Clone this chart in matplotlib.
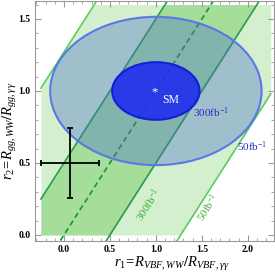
import numpy as np
import matplotlib
matplotlib.use("Agg")
import matplotlib.pyplot as plt
from matplotlib.patches import Ellipse
from matplotlib.ticker import MultipleLocator

plt.rcParams["font.family"] = "Liberation Serif"
plt.rcParams["mathtext.fontset"] = "custom"
plt.rcParams["mathtext.rm"] = "Liberation Serif"
plt.rcParams["mathtext.it"] = "Liberation Serif:italic"
plt.rcParams["mathtext.bf"] = "Liberation Serif:bold"
plt.rcParams["mathtext.bfit"] = "Liberation Serif:bold:italic"

# region plotted and band half widths (in r2 at fixed r1)
r1_range = [-0.25, 2.25]
r2_range = [0.0, 1.6]
band_50 = 1.27
band_300 = 0.5

# ellipses: center, half axes
sm_point = [1.0, 1.0]
ell_50 = [1.15, 0.515]
ell_300 = [0.475, 0.2]

# measured point
meas_r1 = 0.07
meas_r2 = 0.5
meas_r1_err = 0.315
meas_r2_err = 0.245

fig = plt.figure(figsize=(2.75, 2.73), dpi=100)
ax = fig.add_axes([35/275, 1 - 241/273, 239/275, 240/273])
ax.set_xlim(-0.315, 2.285)
ax.set_ylim(-0.042, 1.625)

x = np.linspace(r1_range[0], r1_range[1], 600)

def band(w, color):
    lo = np.clip(x - w, *r2_range)
    hi = np.clip(x + w, *r2_range)
    ax.fill_between(x, lo, hi, where=hi > lo, color=color, lw=0, zorder=1)

band(band_50, "#d4efce")
band(band_300, "#a5dd9b")

for s in (-1, 1):
    ax.plot(x, x + s*band_50, color="#5dcc5d", lw=1.2, zorder=2)
    ax.plot(x, x + s*band_300, color="#2c9c48", lw=1.2, zorder=2)
ax.plot(x, x, color="#1e9a38", lw=1.3, ls=(0, (3, 2)), zorder=2)

big = Ellipse(sm_point, 2*ell_50[0], 2*ell_50[1], facecolor=(0.27, 0.42, 0.8, 0.36),
              edgecolor="#5a78e6", lw=1.5, zorder=3)
small = Ellipse(sm_point, 2*ell_300[0], 2*ell_300[1], facecolor=(0.12, 0.18, 0.93, 0.9),
                edgecolor="#1020d8", lw=1.5, zorder=4)
ax.add_patch(big)
ax.add_patch(small)

ax.errorbar([meas_r1], [meas_r2], xerr=[meas_r1_err], yerr=[meas_r2_err], fmt="none",
            ecolor="black", elinewidth=1.3, capsize=2, capthick=1.3, zorder=5)

ax.text(0.985, 0.99, "*", color="white", fontsize=9, ha="center", va="center", zorder=6)
ax.text(1.07, 0.94, "SM", color="white", fontsize=8.5, ha="left", va="center", zorder=6)
ax.text(1.40, 0.85, r"300fb$^{-1}$", color="#2828c8", fontsize=8, ha="left", va="center", zorder=6)
ax.text(1.88, 0.61, r"50fb$^{-1}$", color="#2828c8", fontsize=8, ha="left", va="center", zorder=6)

fig.canvas.draw()
p0 = ax.transData.transform((0, 0))
p1 = ax.transData.transform((1, 1))
ang = np.degrees(np.arctan2(p1[1] - p0[1], p1[0] - p0[0]))
ax.text(0.92, 0.21, r"300fb$^{-1}$", color="#35b035", fontsize=8, rotation=ang,
        ha="center", va="center", rotation_mode="anchor", zorder=6)
ax.text(1.57, 0.19, r"50fb$^{-1}$", color="#35b035", fontsize=8, rotation=ang,
        ha="center", va="center", rotation_mode="anchor", zorder=6)

ax.xaxis.set_major_locator(MultipleLocator(0.5))
ax.xaxis.set_minor_locator(MultipleLocator(0.1))
ax.yaxis.set_major_locator(MultipleLocator(0.5))
ax.yaxis.set_minor_locator(MultipleLocator(0.1))
ax.xaxis.set_major_formatter(matplotlib.ticker.FormatStrFormatter("%.1f"))
ax.yaxis.set_major_formatter(matplotlib.ticker.FormatStrFormatter("%.1f"))
ax.tick_params(which="both", direction="in", top=True, right=True, color="#999999",
               labelsize=7, pad=3)
ax.tick_params(which="major", length=4, width=0.8)
ax.tick_params(which="minor", length=2, width=0.6)
for lab in ax.get_xticklabels() + ax.get_yticklabels():
    lab.set_fontweight("bold")
for sp in ax.spines.values():
    sp.set_color("#999999")
    sp.set_linewidth(0.8)

ax.set_xlabel(r"$\boldsymbol{r_1\!=\!R_{VBF,WW}/R_{VBF,\gamma\gamma}}$", fontsize=10.5)
ax.set_ylabel(r"$\boldsymbol{r_2\!=\!R_{gg,WW}/R_{gg,\gamma\gamma}}$", fontsize=10.5)
ax.xaxis.set_label_coords(0.57, -0.058)
ax.yaxis.set_label_coords(-0.065, 0.46)

fig.savefig("out.png", dpi=100)
